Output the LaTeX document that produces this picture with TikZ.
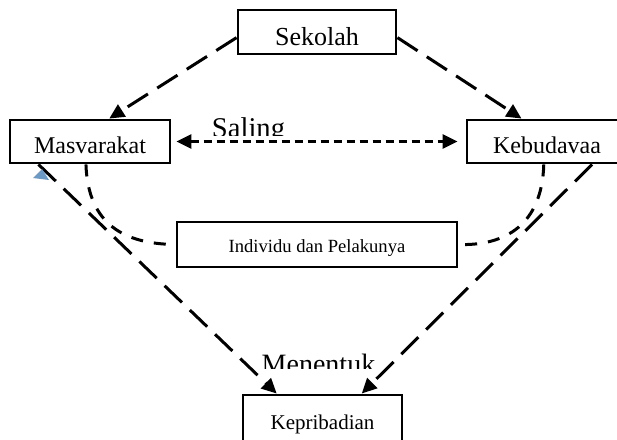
\documentclass[tikz,border=0pt]{standalone}
\usepackage{fontspec}
\setmainfont{Liberation Serif}
\usetikzlibrary{arrows.meta}
\definecolor{tricol}{HTML}{6C9AC7}

\begin{document}
\begin{tikzpicture}[x=1pt,y=-1pt,line cap=butt,
        >={Triangle[length=15pt,width=14pt]},
        box/.style={draw,line width=2.9pt,inner sep=0pt,align=center},
        longdash/.style={line width=3pt,dash pattern=on 24pt off 11pt},
        curvedash/.style={line width=3pt,dash pattern=on 12pt off 11pt},
        shortdash/.style={line width=3pt,dash pattern=on 8pt off 5pt}]
            \useasboundingbox (0,0) rectangle (617,439);
            \clip (0,0) rectangle (617,439);

            % the boxes
            \node[box,minimum width=158pt,text height=35pt,text depth=9pt,anchor=base,
                font=\fontsize{26}{30}\selectfont] (sek) at (317,45) {Sekolah};
            \node[box,minimum width=160pt,text height=33pt,text depth=10pt,anchor=base,
                font=\fontsize{24}{28}\selectfont] (mas) at (90,153) {Masvarakat};
            \node[box,minimum width=160pt,text height=33pt,text depth=10pt,anchor=base,
                font=\fontsize{24}{28}\selectfont] (keb) at (547,153) {Kebudavaa};
            \node[box,minimum width=280pt,text height=30pt,text depth=15pt,anchor=base,
                font=\fontsize{18.6}{22}\selectfont] (ind) at (317,252) {Individu dan Pelakunya};
            \node[box,minimum width=159pt,text height=34pt,text depth=16pt,anchor=base,
                font=\fontsize{21}{25}\selectfont] (kep) at (322.5,429) {Kepribadian};

            % the labels, cut off at the bottom
            \begin{scope}
                \clip (0,0) rectangle (617,135);
                \node[anchor=base,inner sep=0pt,font=\fontsize{28.6}{32}\selectfont] (sal) at (248.5,137.5) {Saling};
            \end{scope}
            \begin{scope}
                \clip (0,300) rectangle (617,368);
                \node[anchor=base,inner sep=0pt,font=\fontsize{28}{32}\selectfont] (men) at (318.5,373.5) {Menentuk};
            \end{scope}

            % sekolah to the two boxes below
            \draw[longdash,->] (sek.184) -- (mas.50);
            \draw[longdash,->] (sek.-4) -- (keb.138);

            % saling
            \draw[shortdash,<->,shorten <=5pt,shorten >=8pt] (mas.east) -- (keb.west);

            % individu dan pelakunya
            \draw[curvedash] (mas.260) .. controls (88,225) and (125,244) .. (ind.west);
            \draw[curvedash] (keb.262) .. controls (542,225) and (505,246) .. (ind.east);

            % menentukan kepribadian
            \draw[longdash,->] (mas.204) -- (kep.150);
            \draw[longdash,->] (keb.-27) -- (kep.34);

            % small blue mark
            \fill[tricol] (42,169) -- (33,178) -- (49,180) -- cycle;
        \end{tikzpicture}
\end{document}
